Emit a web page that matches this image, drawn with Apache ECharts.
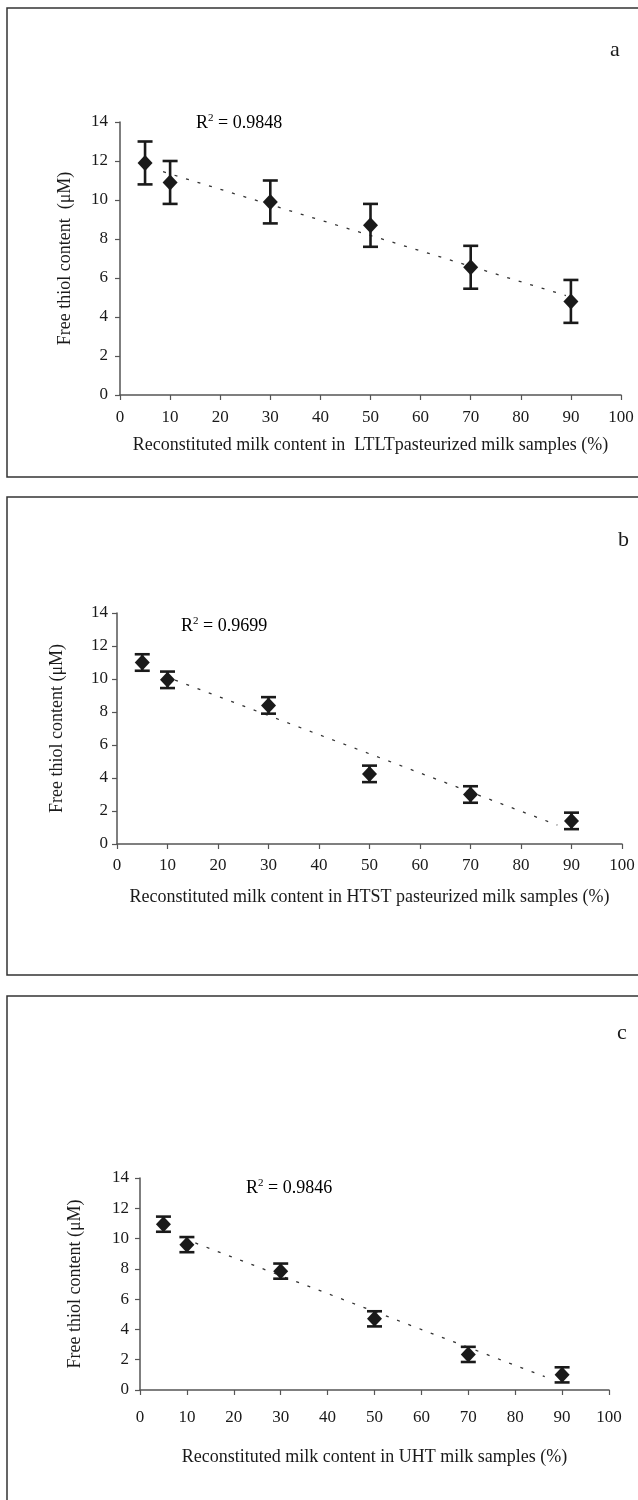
<!DOCTYPE html>
<html>
<head>
<meta charset="utf-8">
<script src="https://cdn.jsdelivr.net/npm/echarts@6/dist/echarts.min.js"></script>
<style>
  html, body { margin: 0; padding: 0; background: #fff; }
  #main { width: 638px; height: 1500px; }
</style>
</head>
<body>
<div id="main"></div>
<script>
// reconstituted milk content (%)
var milkPct = [5, 10, 30, 50, 70, 90];

// panel a - LTLT
var ltltMean = [11.9, 10.9, 9.9, 8.7, 6.55, 4.8];
var ltltErr = [1.1, 1.1, 1.1, 1.1, 1.1, 1.1];
var ltltTrend = [[8.6, 11.45], [89, 5.1]];

// panel b - HTST
var htstMean = [11.0, 9.95, 8.4, 4.25, 3.0, 1.4];
var htstErr = [0.5, 0.5, 0.5, 0.5, 0.5, 0.5];
var htstTrend = [[11.5, 9.93], [87.2, 1.15]];

// panel c - UHT
var uhtMean = [10.95, 9.6, 7.85, 4.7, 2.35, 1.0];
var uhtErr = [0.5, 0.5, 0.5, 0.5, 0.5, 0.5];
var uhtTrend = [[11.8, 9.71], [86.3, 0.88]];

var xTicks = [0, 10, 20, 30, 40, 50, 60, 70, 80, 90, 100];
var yTicks = [0, 2, 4, 6, 8, 10, 12, 14];

var panels = [
    { letter: 'a', r2: '0.9848', mean: ltltMean, err: ltltErr, trend: ltltTrend,
      xName: 'Reconstituted milk content in  LTLTpasteurized milk samples (%)',
      yName: 'Free thiol content  (\u03bcM)' },
    { letter: 'b', r2: '0.9699', mean: htstMean, err: htstErr, trend: htstTrend,
      xName: 'Reconstituted milk content in HTST pasteurized milk samples (%)',
      yName: 'Free thiol content (\u03bcM)' },
    { letter: 'c', r2: '0.9846', mean: uhtMean, err: uhtErr, trend: uhtTrend,
      xName: 'Reconstituted milk content in UHT milk samples (%)',
      yName: 'Free thiol content (\u03bcM)' }
];

// layout for each panel
var layout = [
    { box: [7, 8, 700, 469], grid: { left: 120, top: 122, width: 501, height: 273 },
      letterPos: [610, 50], r2Pos: [196, 123], xGap: 41, yGap: 46, xMargin: 14, yMargin: 12 },
    { box: [7, 497, 700, 478], grid: { left: 117, top: 613, width: 505, height: 231 },
      letterPos: [618, 540], r2Pos: [181, 626], xGap: 44, yGap: 51, xMargin: 13, yMargin: 9 },
    { box: [7, 996, 700, 600], grid: { left: 140, top: 1178, width: 469, height: 212 },
      letterPos: [617, 1033], r2Pos: [246, 1188], xGap: 58, yGap: 56, xMargin: 19, yMargin: 11 }
];

var font = 'Liberation Serif';
var ink = '#1a1a1a';
var axisCol = '#555';

var chart = echarts.init(document.getElementById('main'), null, { renderer: 'canvas' });

var grids = [], xAxes = [], yAxes = [], series = [], graphics = [];

panels.forEach(function (p, i) {
    var L = layout[i];
    grids.push(L.grid);
    xAxes.push({
        gridIndex: i, type: 'value', min: 0, max: 100, interval: 10,
        name: p.xName, nameLocation: 'middle', nameGap: L.xGap,
        nameTextStyle: { fontFamily: font, fontSize: 18, color: ink },
        axisLine: { lineStyle: { color: axisCol, width: 1.5 } },
        axisTick: { show: true, inside: false, length: 5, lineStyle: { color: axisCol, width: 1.2 } },
        axisLabel: { fontFamily: font, fontSize: 17, color: ink, margin: L.xMargin,
            formatter: function (v) { return xTicks.indexOf(v) >= 0 ? String(v) : ''; } },
        splitLine: { show: false }
    });
    yAxes.push({
        gridIndex: i, type: 'value', min: 0, max: 14, interval: 2,
        name: p.yName, nameLocation: 'middle', nameGap: L.yGap, nameRotate: 90,
        nameTextStyle: { fontFamily: font, fontSize: 18, color: ink },
        axisLine: { show: true, lineStyle: { color: axisCol, width: 1.5 } },
        axisTick: { show: true, inside: false, length: 5, lineStyle: { color: axisCol, width: 1.2 } },
        axisLabel: { fontFamily: font, fontSize: 17, color: ink, margin: L.yMargin,
            formatter: function (v) { return yTicks.indexOf(v) >= 0 ? String(v) : ''; } },
        splitLine: { show: false }
    });

    // dotted linear trendline
    series.push({
        type: 'line', xAxisIndex: i, yAxisIndex: i,
        data: p.trend, symbol: 'none', silent: true, z: 1,
        lineStyle: { color: '#333', width: 1.3, type: [3, 9] }
    });

    // error bars
    series.push({
        type: 'custom', xAxisIndex: i, yAxisIndex: i, z: 2,
        data: milkPct.map(function (x, k) { return [x, p.mean[k] - p.err[k], p.mean[k] + p.err[k]]; }),
        renderItem: function (params, api) {
            var top = api.coord([api.value(0), api.value(2)]);
            var bot = api.coord([api.value(0), api.value(1)]);
            var hw = 7.5;
            var st = { stroke: ink, lineWidth: 2.6 };
            return {
                type: 'group',
                children: [
                    { type: 'line', shape: { x1: top[0], y1: top[1], x2: bot[0], y2: bot[1] }, style: st },
                    { type: 'line', shape: { x1: top[0] - hw, y1: top[1], x2: top[0] + hw, y2: top[1] }, style: st },
                    { type: 'line', shape: { x1: bot[0] - hw, y1: bot[1], x2: bot[0] + hw, y2: bot[1] }, style: st }
                ]
            };
        }
    });

    // means
    series.push({
        type: 'scatter', xAxisIndex: i, yAxisIndex: i, z: 3,
        data: milkPct.map(function (x, k) { return [x, p.mean[k]]; }),
        symbol: 'diamond', symbolSize: [15, 16],
        itemStyle: { color: ink, opacity: 1 }
    });

    // panel frame, letter and R2 text
    graphics.push({
        type: 'rect', silent: true,
        shape: { x: L.box[0], y: L.box[1], width: L.box[2], height: L.box[3] },
        style: { fill: null, stroke: '#333', lineWidth: 1.5 }
    });
    graphics.push({
        type: 'text', x: L.letterPos[0], y: L.letterPos[1],
        style: { text: p.letter, font: '22px "' + font + '"', fill: ink, verticalAlign: 'middle' }
    });
    graphics.push({
        type: 'text', x: L.r2Pos[0], y: L.r2Pos[1],
        style: {
            text: '{b|R}{s|2}{b| = ' + p.r2 + '}',
            verticalAlign: 'middle',
            rich: {
                b: { fontFamily: font, fontSize: 18, color: ink },
                s: { fontFamily: font, fontSize: 11, color: ink, verticalAlign: 'top', padding: [0, 0, 9, 0] }
            }
        }
    });
});

var option = {
    backgroundColor: '#fff',
    animation: false,
    grid: grids,
    xAxis: xAxes,
    yAxis: yAxes,
    series: series,
    graphic: graphics
};

chart.setOption(option);
</script>
</body>
</html>
